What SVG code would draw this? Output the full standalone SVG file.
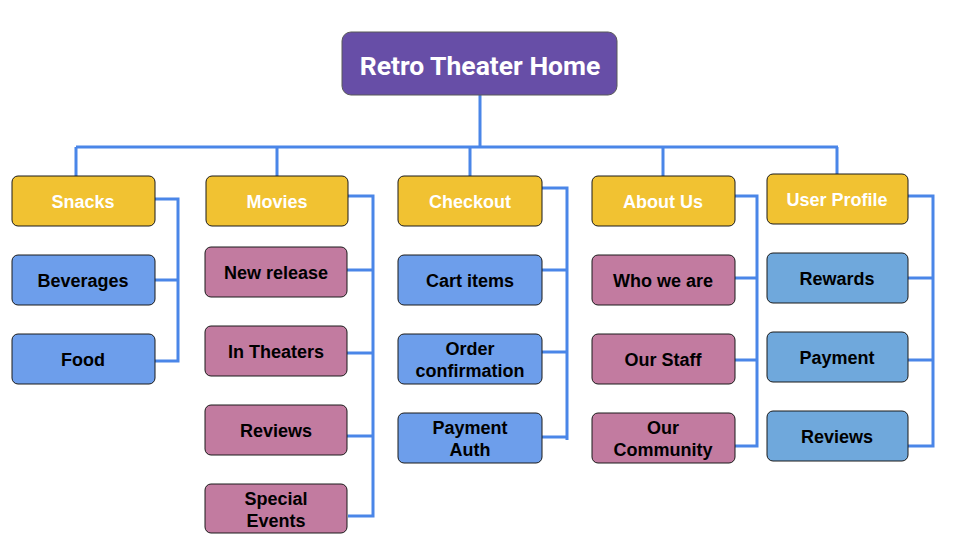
<svg xmlns="http://www.w3.org/2000/svg" width="960" height="540" viewBox="0 0 960 540">
<style>
.box{stroke:#1a1a1a;stroke-width:1}
.root{fill:#674ea7;stroke:#595959;stroke-width:1}
.hdr{fill:#f1c232}
.blue{fill:#6d9eeb}
.pink{fill:#c27ba0}
.lblue{fill:#6fa8dc}
.t{font-family:"Liberation Sans",Arial,sans-serif;font-weight:bold;font-size:18px;text-anchor:middle;dominant-baseline:central;fill:#000}
.th{fill:#fff}
.tr{font-family:Roboto,"Liberation Sans",sans-serif;font-weight:bold;font-size:26.5px;text-anchor:middle;dominant-baseline:central;fill:#fff}
.c{fill:none;stroke:#4a86e8;stroke-width:3}
</style>
<g id="connectors">
<path class="c" d="M480 95V147M76 147H838M76 147V176M277 147V176M470 147V176M663 147V176M837 147V174"/>
<path class="c" d="M155 199H178V361H155M155 280H178"/>
<path class="c" d="M348 196H373V516H348M347 270H373M347 353H373M347 436H373"/>
<path class="c" d="M542 188H567V440M542 437H567M542 270H567M542 352H567"/>
<path class="c" d="M732 196H757V446H735M735 278H757M735 360H757"/>
<path class="c" d="M908 196H933V446H908M908 278H933M908 360H933"/>
</g>
<g id="root"><rect class="root" x="342" y="32" width="275" height="63" rx="9"/><text class="tr" x="480" y="65">Retro Theater Home</text></g>
<g id="snacks"><rect class="box hdr" x="12" y="176" width="143" height="50" rx="6"/><text class="t th" x="83" y="202">Snacks</text></g>
<g id="beverages"><rect class="box blue" x="12" y="255" width="143" height="50" rx="6"/><text class="t" x="83" y="281">Beverages</text></g>
<g id="food"><rect class="box blue" x="12" y="334" width="143" height="50" rx="6"/><text class="t" x="83" y="360">Food</text></g>
<g id="movies"><rect class="box hdr" x="206" y="176" width="142" height="50" rx="6"/><text class="t th" x="277" y="202">Movies</text></g>
<g id="new-release"><rect class="box pink" x="205" y="247" width="142" height="50" rx="6"/><text class="t" x="276" y="273">New release</text></g>
<g id="in-theaters"><rect class="box pink" x="205" y="326" width="142" height="50" rx="6"/><text class="t" x="276" y="352">In Theaters</text></g>
<g id="movie-reviews"><rect class="box pink" x="205" y="405" width="142" height="50" rx="6"/><text class="t" x="276" y="431">Reviews</text></g>
<g id="special-events"><rect class="box pink" x="205" y="484" width="142" height="49" rx="6"/><text class="t" x="276" y="499">Special</text><text class="t" x="276" y="521">Events</text></g>
<g id="checkout"><rect class="box hdr" x="398" y="176" width="144" height="50" rx="6"/><text class="t th" x="470" y="202">Checkout</text></g>
<g id="cart-items"><rect class="box blue" x="398" y="255" width="144" height="50" rx="6"/><text class="t" x="470" y="281">Cart items</text></g>
<g id="order-confirmation"><rect class="box blue" x="398" y="334" width="144" height="50" rx="6"/><text class="t" x="470" y="349">Order</text><text class="t" x="470" y="371">confirmation</text></g>
<g id="payment-auth"><rect class="box blue" x="398" y="413" width="144" height="50" rx="6"/><text class="t" x="470" y="428">Payment</text><text class="t" x="470" y="450">Auth</text></g>
<g id="about-us"><rect class="box hdr" x="592" y="176" width="143" height="50" rx="6"/><text class="t th" x="663" y="202">About Us</text></g>
<g id="who-we-are"><rect class="box pink" x="592" y="255" width="143" height="50" rx="6"/><text class="t" x="663" y="281">Who we are</text></g>
<g id="our-staff"><rect class="box pink" x="592" y="334" width="143" height="50" rx="6"/><text class="t" x="663" y="360">Our Staff</text></g>
<g id="our-community"><rect class="box pink" x="592" y="413" width="143" height="50" rx="6"/><text class="t" x="663" y="428">Our</text><text class="t" x="663" y="450">Community</text></g>
<g id="user-profile"><rect class="box hdr" x="767" y="174" width="141" height="50" rx="6"/><text class="t th" x="837" y="200">User Profile</text></g>
<g id="rewards"><rect class="box lblue" x="767" y="253" width="141" height="50" rx="6"/><text class="t" x="837" y="279">Rewards</text></g>
<g id="payment"><rect class="box lblue" x="767" y="332" width="141" height="50" rx="6"/><text class="t" x="837" y="358">Payment</text></g>
<g id="profile-reviews"><rect class="box lblue" x="767" y="411" width="141" height="50" rx="6"/><text class="t" x="837" y="437">Reviews</text></g>
</svg>
